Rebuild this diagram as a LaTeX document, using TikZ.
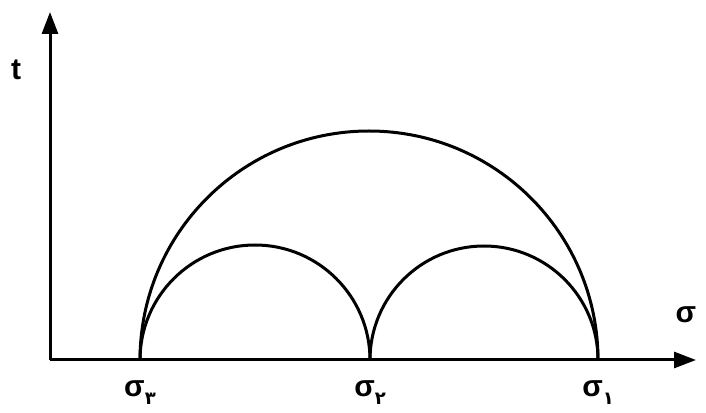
\documentclass[tikz,border=0pt]{standalone}
\usepackage{fontspec}
\setmainfont{Liberation Sans}
\newfontfamily\fadigits{DejaVu Sans}
\usetikzlibrary{arrows.meta, positioning}
\begin{document}
\begin{tikzpicture}[
    x=1pt, y=1pt,
    axis/.style={-{Triangle[length=22pt, width=16pt]}, line width=3pt},
    mohr/.style={line width=3pt},
    lbl/.style={font=\fontsize{30}{34}\selectfont\bfseries, inner sep=1pt},
]
    \useasboundingbox (0,0) rectangle (706,412);
    \coordinate (O) at (50,52);
    \coordinate (tend) at (50,400);
    \coordinate (send) at (696,52);

    % axes
    \draw[axis] (O) -- (tend);
    \draw[axis] (O) -- (send);
    \node[lbl] (t) at (16,342) {t};
    \node[lbl] (s) at (686,97) {σ};

    % principal stresses
    \coordinate (s3) at (140,52);
    \coordinate (s2) at (370,52);
    \coordinate (s1) at (598,52);
    \node[lbl, below=19pt of s3] (l3) {σ\raisebox{-8pt}{\fadigits\fontsize{18}{20}\selectfont ۳}};
    \node[lbl, below=19pt of s2] (l2) {σ\raisebox{-8pt}{\fadigits\fontsize{18}{20}\selectfont ۲}};
    \node[lbl, below=19pt of s1] (l1) {σ\raisebox{-8pt}{\fadigits\fontsize{18}{20}\selectfont ۱}};

    % Mohr circles
    \draw[mohr] (s1) arc[start angle=0, end angle=180, radius=229];
    \draw[mohr] (s2) arc[start angle=0, end angle=180, radius=115];
    \draw[mohr] (s1) arc[start angle=0, end angle=180, radius=114];
\end{tikzpicture}
\end{document}
